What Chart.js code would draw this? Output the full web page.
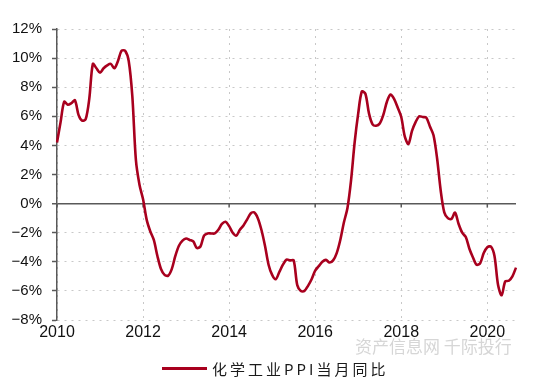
<!DOCTYPE html>
<html>
<head>
<meta charset="utf-8">
<script src="https://cdn.jsdelivr.net/npm/chart.js@4.4.1/dist/chart.umd.min.js"></script>
<style>
  body { margin: 0; background: #fff; }
  .wrap { position: relative; width: 549px; height: 386px; }
  .legend { position: absolute; left: 162px; top: 357px; height: 22px; display: flex; align-items: center;
    font-family: "Noto Sans CJK SC", sans-serif; font-size: 15px; letter-spacing: 3px; color: #1a1a1a; }
  .legend .swatch { display: inline-block; width: 45px; height: 3px; background: #a8001e; margin-right: 5px; }
  .mark { position: absolute; left: 355px; top: 333px; font-family: "Noto Sans CJK SC", sans-serif;
    font-size: 17px; color: #d6d6d6; white-space: nowrap; }
</style>
</head>
<body>
<div class="wrap">
  <canvas id="chart" width="549" height="386"></canvas>
  <div class="mark">资产信息网 千际投行</div>
  <div class="legend"><span class="swatch"></span><span>化学工业PPI当月同比</span></div>
</div>
<script>
const seriesName = '化学工业PPI当月同比'
const tickYears = ['2010', '2012', '2014', '2016', '2018', '2020']
const yTicks = [-8, -6, -4, -2, 0, 2, 4, 6, 8, 10, 12]

// monthly, 2010-01 .. 2020-09
const ppi2010 = [4.2, 5.6, 7.0, 6.8, 6.9, 7.1, 6.1, 5.7, 5.8, 7.2, 9.6, 9.3]
const ppi2011 = [9.0, 9.3, 9.5, 9.6, 9.3, 9.8, 10.5, 10.5, 9.8, 7.4, 3.0, 1.3]
const ppi2012 = [0.3, -1.1, -1.9, -2.5, -3.6, -4.5, -4.9, -4.95, -4.5, -3.6, -2.9, -2.55]
const ppi2013 = [-2.4, -2.5, -2.6, -3.05, -2.95, -2.2, -2.05, -2.05, -2.05, -1.8, -1.4, -1.25]
const ppi2014 = [-1.55, -2.0, -2.2, -1.8, -1.5, -1.1, -0.68, -0.6, -1.0, -1.8, -2.9, -4.2]
const ppi2015 = [-4.9, -5.2, -4.7, -4.2, -3.85, -3.9, -3.9, -5.6, -6.0, -6.0, -5.65, -5.2]
const ppi2016 = [-4.6, -4.3, -4.0, -3.87, -4.05, -3.9, -3.4, -2.5, -1.3, -0.3, 1.6, 4.2]
const ppi2017 = [6.2, 7.7, 7.55, 6.2, 5.45, 5.35, 5.5, 6.1, 7.0, 7.5, 7.2, 6.6]
const ppi2018 = [5.95, 4.6, 4.1, 5.0, 5.6, 6.0, 5.95, 5.9, 5.3, 4.7, 3.1, 0.9]
const ppi2019 = [-0.6, -1.0, -1.05, -0.62, -1.4, -2.0, -2.3, -3.1, -3.7, -4.2, -4.1, -3.4]
const ppi2020 = [-3.0, -2.95, -3.6, -5.6, -6.3, -5.35, -5.3, -5.0, -4.4]

const values = [].concat(ppi2010, ppi2011, ppi2012, ppi2013, ppi2014, ppi2015,
  ppi2016, ppi2017, ppi2018, ppi2019, ppi2020)

const months = []
for (let i = 0; i < values.length; i++) {
  const y = 2010 + Math.floor(i / 12)
  const m = (i % 12) + 1
  months.push(y + '-' + (m < 10 ? '0' + m : m))
}

const axisColor = '#595959'
const gridColor = '#c8c8c8'

// little down ticks on the zero line, under each year label
const zeroTicks = {
  id: 'zeroTicks',
  beforeDatasetsDraw(chart) {
    const { ctx, scales: { x, y } } = chart
    const y0 = y.getPixelForValue(0)
    ctx.save()
    ctx.strokeStyle = axisColor
    ctx.lineWidth = 1.5
    months.forEach((lab, i) => {
      if (lab.endsWith('-01') && tickYears.includes(lab.slice(0, 4))) {
        const px = x.getPixelForValue(i)
        ctx.beginPath()
        ctx.moveTo(px, y0)
        ctx.lineTo(px, y0 + 4)
        ctx.stroke()
      }
    })
    ctx.restore()
  }
}

new Chart(document.getElementById('chart'), {
  type: 'line',
  data: {
    labels: months,
    datasets: [{
      label: seriesName,
      data: values,
      borderColor: '#a8001e',
      borderWidth: 2.6,
      pointRadius: 0,
      tension: 0.3,
      fill: false
    }]
  },
  options: {
    responsive: false,
    devicePixelRatio: 1,
    animation: false,
    layout: { padding: { left: 0, top: 29, right: 33, bottom: 40 } },
    plugins: { legend: { display: false }, tooltip: { enabled: false } },
    scales: {
      x: {
        type: 'category',
        afterFit(scale) { scale.height = 26 },
        border: { display: false, dash: [2, 5] },
        grid: { color: gridColor, lineWidth: 1, drawTicks: false },
        ticks: {
          autoSkip: false,
          maxRotation: 0,
          padding: 3,
          color: '#111',
          font: { family: 'Arial, "Liberation Sans", sans-serif', size: 16 },
          callback(val) {
            const lab = this.getLabelForValue(val)
            const yr = lab.slice(0, 4)
            return lab.endsWith('-01') && tickYears.includes(yr) ? yr : null
          }
        }
      },
      y: {
        min: yTicks[0],
        max: yTicks[yTicks.length - 1],
        afterFit(scale) { scale.width = 57 },
        afterBuildTicks(scale) { scale.ticks = yTicks.map(v => ({ value: v })) },
        border: {
          display: true,
          color: axisColor,
          width: 1.5,
          dash: ctx => (ctx.tick && ctx.tick.value === 0) ? [] : [2, 5]
        },
        grid: {
          color: ctx => (ctx.tick && ctx.tick.value === 0) ? axisColor : gridColor,
          lineWidth: ctx => (ctx.tick && ctx.tick.value === 0) ? 1.5 : 1,
          drawTicks: true,
          tickLength: 5,
          tickColor: axisColor,
          tickWidth: 1.5,
          tickBorderDash: []
        },
        ticks: {
          padding: 10,
          color: '#111',
          font: { family: 'Arial, "Liberation Sans", sans-serif', size: 15 },
          callback: v => (v < 0 ? '\u2212' + Math.abs(v) : v) + '%'
        }
      }
    }
  },
  plugins: [zeroTicks]
})
</script>
</body>
</html>
